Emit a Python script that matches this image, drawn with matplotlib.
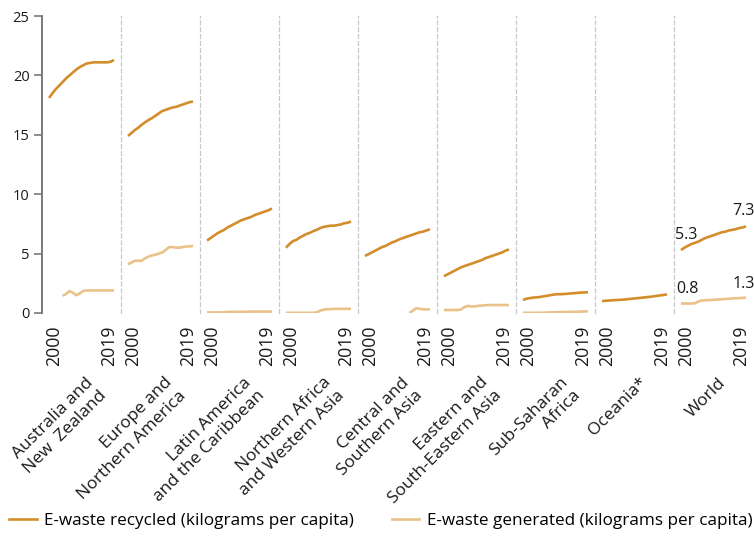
import numpy as np
import matplotlib.pyplot as plt

plt.rcParams['font.family'] = ['Open Sans', 'DejaVu Sans']

# ---- data (kilograms per capita), 2000-2019 ----
years = np.arange(2000, 2020)

regions = ['Australia and\nNew  Zealand', 'Europe and\nNorthern America',
           'Latin America\nand the Caribbean', 'Northern Africa\nand Western Asia',
           'Central and\nSouthern Asia', 'Eastern and\nSouth-Eastern Asia',
           'Sub-Saharan\nAfrica', 'Oceania*', 'World']

aus_rec = [18.1, 18.5, 18.85, 19.15, 19.45, 19.75, 20.0, 20.25, 20.5, 20.7,
           20.85, 21.0, 21.05, 21.1, 21.1, 21.1, 21.1, 21.1, 21.15, 21.3]
aus_gen = [np.nan, np.nan, np.nan, np.nan, 1.45, 1.6, 1.85, 1.7, 1.5, 1.65,
           1.85, 1.9, 1.9, 1.9, 1.9, 1.9, 1.9, 1.9, 1.9, 1.9]

eur_rec = [14.9, 15.15, 15.4, 15.6, 15.85, 16.05, 16.25, 16.4, 16.6, 16.8,
           17.0, 17.1, 17.2, 17.3, 17.35, 17.45, 17.55, 17.65, 17.75, 17.8]
eur_gen = [4.1, 4.25, 4.4, 4.4, 4.4, 4.6, 4.75, 4.85, 4.9, 5.0,
           5.1, 5.3, 5.55, 5.55, 5.5, 5.5, 5.55, 5.6, 5.6, 5.65]

lat_rec = [6.1, 6.3, 6.5, 6.7, 6.85, 7.0, 7.2, 7.35, 7.5, 7.65,
           7.8, 7.9, 8.0, 8.1, 8.25, 8.35, 8.45, 8.55, 8.65, 8.8]
lat_gen = [0.05, 0.05, 0.05, 0.05, 0.05, 0.06, 0.08, 0.1, 0.1, 0.1,
           0.1, 0.1, 0.11, 0.12, 0.12, 0.12, 0.12, 0.12, 0.12, 0.12]

naf_rec = [5.5, 5.8, 6.05, 6.15, 6.35, 6.5, 6.65, 6.75, 6.9, 7.0,
           7.15, 7.25, 7.3, 7.35, 7.35, 7.4, 7.45, 7.55, 7.6, 7.7]
naf_gen = [0.02, 0.02, 0.02, 0.02, 0.02, 0.02, 0.02, 0.02, 0.02, 0.05,
           0.2, 0.28, 0.32, 0.33, 0.34, 0.35, 0.35, 0.35, 0.35, 0.35]

csa_rec = [4.8, 4.95, 5.1, 5.25, 5.4, 5.55, 5.65, 5.8, 5.95, 6.05,
           6.2, 6.3, 6.4, 6.5, 6.6, 6.7, 6.8, 6.85, 6.95, 7.05]
csa_gen = [np.nan] * 13 + [0.0, 0.2, 0.4, 0.35, 0.32, 0.3, 0.3]

esa_rec = [3.1, 3.25, 3.4, 3.55, 3.7, 3.85, 3.95, 4.05, 4.15, 4.25,
           4.35, 4.45, 4.6, 4.7, 4.8, 4.9, 5.0, 5.1, 5.25, 5.35]
esa_gen = [0.25, 0.25, 0.25, 0.25, 0.25, 0.3, 0.5, 0.6, 0.55, 0.55,
           0.6, 0.62, 0.65, 0.67, 0.67, 0.67, 0.67, 0.67, 0.67, 0.67]

ssa_rec = [1.1, 1.2, 1.25, 1.3, 1.32, 1.35, 1.4, 1.45, 1.5, 1.55,
           1.58, 1.58, 1.6, 1.62, 1.65, 1.67, 1.7, 1.72, 1.73, 1.75]
ssa_gen = [0.02, 0.02, 0.02, 0.02, 0.02, 0.02, 0.03, 0.04, 0.05, 0.06,
           0.07, 0.08, 0.08, 0.09, 0.1, 0.1, 0.11, 0.12, 0.13, 0.14]

oce_rec = [1.0, 1.03, 1.05, 1.07, 1.09, 1.1, 1.12, 1.15, 1.18, 1.21,
           1.24, 1.27, 1.3, 1.33, 1.36, 1.4, 1.44, 1.48, 1.52, 1.57]
oce_gen = [np.nan] * 20

wld_rec = [5.3, 5.5, 5.65, 5.8, 5.9, 6.0, 6.15, 6.3, 6.4, 6.5,
           6.6, 6.7, 6.8, 6.85, 6.95, 7.0, 7.05, 7.15, 7.2, 7.3]
wld_gen = [0.8, 0.8, 0.8, 0.8, 0.82, 0.95, 1.05, 1.07, 1.08, 1.1,
           1.12, 1.14, 1.16, 1.18, 1.2, 1.22, 1.24, 1.25, 1.27, 1.3]

recycled = [aus_rec, eur_rec, lat_rec, naf_rec, csa_rec, esa_rec, ssa_rec, oce_rec, wld_rec]
generated = [aus_gen, eur_gen, lat_gen, naf_gen, csa_gen, esa_gen, ssa_gen, oce_gen, wld_gen]

c_rec = '#D38D2B'
c_gen = '#E9C289'
txt = '#1a1a1a'

# ---- layout ----
W, H = 754, 538
fig = plt.figure(figsize=(W / 100, H / 100), dpi=100)
left, right, top, bottom = 42, 753, 16, 313
pw = (right - left) / len(regions)

for i, name in enumerate(regions):
    ax = fig.add_axes([(left + i * pw) / W, 1 - bottom / H, pw / W, (bottom - top) / H])
    ax.plot(years, recycled[i], color=c_rec, lw=1.9, solid_capstyle='butt')
    ax.plot(years, generated[i], color=c_gen, lw=1.9, solid_capstyle='butt')
    ax.set_xlim(1997.95, 2021.05)
    ax.set_ylim(0, 25)
    ax.set_xticks([])
    for s in ['top', 'right', 'bottom']:
        ax.spines[s].set_visible(False)
    if i == 0:
        ax.spines['left'].set_color('#6f6f6f')
        ax.spines['left'].set_linewidth(1.3)
        ax.set_yticks(range(0, 26, 5))
        ax.tick_params(axis='y', length=6, width=1.1, color='#6f6f6f', pad=3,
                       labelsize=10.5, labelcolor=txt)
    else:
        ax.spines['left'].set_color('#c8c8c8')
        ax.spines['left'].set_linewidth(0.9)
        ax.spines['left'].set_linestyle((0, (3, 2.5)))
        ax.set_yticks([])

    # year labels
    ax.annotate(str(years[0]), xy=(years[0], 0), xycoords=('data', 'axes fraction'),
                xytext=(3.6, -9), textcoords='offset points', rotation=90,
                ha='center', va='top', fontsize=12.8, color=txt)
    ax.annotate(str(years[-1]), xy=(years[-1], 0), xycoords=('data', 'axes fraction'),
                xytext=(-3.6, -9), textcoords='offset points', rotation=90,
                ha='center', va='top', fontsize=12.8, color=txt)

    # region name
    ax.text(0.55, -0.207, name, transform=ax.transAxes, rotation=45,
            rotation_mode='anchor', ha='right', va='top', multialignment='right',
            fontsize=12.5, color=txt, linespacing=1.25)

# value labels on World panel
ax.annotate(f'{wld_rec[0]:.1f}', xy=(years[0], wld_rec[0]), xytext=(4, 5),
            textcoords='offset points', ha='center', va='bottom', fontsize=11.5, color=txt)
ax.annotate(f'{wld_rec[-1]:.1f}', xy=(years[-1], wld_rec[-1]), xytext=(-1.5, 5),
            textcoords='offset points', ha='center', va='bottom', fontsize=11.5, color=txt)
ax.annotate(f'{wld_gen[0]:.1f}', xy=(years[0], wld_gen[0]), xytext=(4.5, 5),
            textcoords='offset points', ha='center', va='bottom', fontsize=11.5, color=txt)
ax.annotate(f'{wld_gen[-1]:.1f}', xy=(years[-1], wld_gen[-1]), xytext=(-1.5, 4),
            textcoords='offset points', ha='center', va='bottom', fontsize=11.5, color=txt)

# legend
h1, = ax.plot([], [], color=c_rec, lw=1.9)
h2, = ax.plot([], [], color=c_gen, lw=1.9)
fig.legend([h1, h2], ['E-waste recycled (kilograms per capita)',
                      'E-waste generated (kilograms per capita)'],
           loc='lower left', bbox_to_anchor=(0.0, 0.0), ncol=2, frameon=False,
           fontsize=12.3, handlelength=1.6, handletextpad=0.45, columnspacing=2.2,
           borderaxespad=0.15)

fig.savefig('out.png', dpi=100)
